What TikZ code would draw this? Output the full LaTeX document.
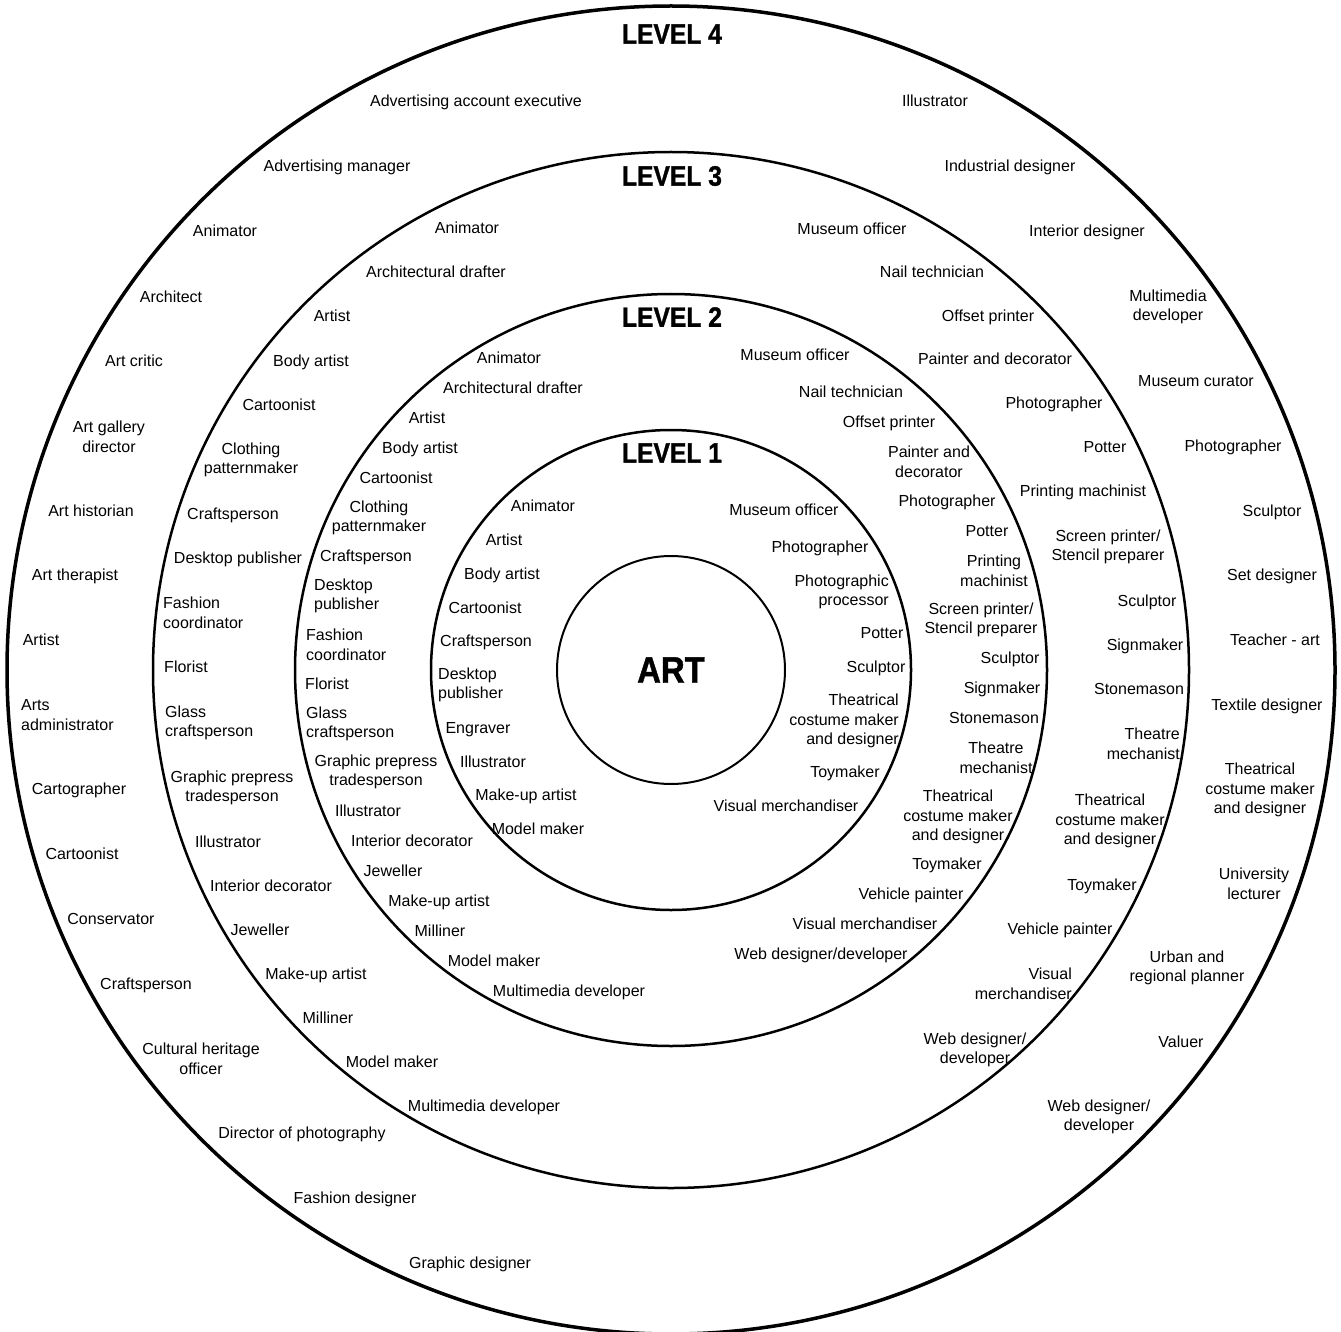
\documentclass[tikz,border=0pt]{standalone}
\usepackage{fontspec}
\setmainfont{Liberation Sans}
\newfontfamily\heavyfont[FakeBold=1.2]{Liberation Sans Bold}
\newcommand\labfont{\fontsize{16}{19.5}\selectfont}
\newcommand\headfont{\heavyfont\fontsize{28}{30}\selectfont}
\newcommand\artfont{\heavyfont\fontsize{37}{40}\selectfont}
\begin{document}
\begin{tikzpicture}[x=1pt,y=-1pt,
  lab/.style={font=\labfont, inner sep=0pt, text height=11pt, text depth=3pt, yshift=-2pt},
  labm/.style={font=\labfont, inner sep=0pt, align=center, yshift=-2pt},
  labl/.style={labm, align=left, anchor=west},
  labr/.style={labm, align=right, anchor=east},
  head/.style={inner sep=0pt, font=\headfont},
  ring/.style={draw, line width=2.5pt}]
\useasboundingbox (0,0) rectangle (1341,1332);
\coordinate (c) at (671,670);
\draw[line width=3.5pt] (c) circle[radius=664];
\draw[ring] (c) circle[radius=518];
\draw[ring] (c) circle[radius=376];
\draw[ring] (c) circle[radius=240];
\node[draw, circle, line width=2pt, minimum size=228pt, inner sep=0pt, font=\artfont] (art) at (c) {\scalebox{0.89}[1]{ART}};
% headings
\node[head] (h4) at (672,34) {\scalebox{0.88}[1]{LEVEL 4}};
\node[head] (h3) at (672,176) {\scalebox{0.88}[1]{LEVEL 3}};
\node[head] (h2) at (672,317) {\scalebox{0.88}[1]{LEVEL 2}};
\node[head] (h1) at (672,453) {\scalebox{0.88}[1]{LEVEL 1}};
% level 4 left
\node[lab] (a1) at (476,101) {Advertising account executive};
\node[lab] (a2) at (337,166) {Advertising manager};
\node[lab] (a3) at (225,231) {Animator};
\node[lab] (a4) at (171,296) {Architect};
\node[lab] (a5) at (134,360) {Art critic};
\node[labm] (a6) at (109,435) {Art gallery\\director};
\node[lab] (a7) at (91,510) {Art historian};
\node[lab] (a8) at (75,574) {Art therapist};
\node[lab] (a9) at (41,639) {Artist};
\node[labl] (a10) at (21,713) {Arts\\administrator};
\node[lab] (a11) at (79,788) {Cartographer};
\node[lab] (a12) at (82,853) {Cartoonist};
\node[lab] (a13) at (111,918) {Conservator};
\node[lab] (a14) at (146,983) {Craftsperson};
\node[labm] (a15) at (201,1057) {Cultural heritage\\officer};
\node[lab] (a16) at (302,1132) {Director of photography};
\node[lab] (a17) at (355,1197) {Fashion designer};
\node[lab] (a18) at (470,1262) {Graphic designer};
% level 4 right
\node[lab] (b1) at (935,101) {Illustrator};
\node[lab] (b2) at (1010,166) {Industrial designer};
\node[lab] (b3) at (1087,231) {Interior designer};
\node[labm] (b4) at (1168,305) {Multimedia\\developer};
\node[lab] (b5) at (1196,380) {Museum curator};
\node[lab] (b6) at (1233,445) {Photographer};
\node[lab] (b7) at (1272,510) {Sculptor};
\node[lab] (b8) at (1272,574) {Set designer};
\node[lab] (b9) at (1275,639) {Teacher - art};
\node[lab] (b10) at (1267,704) {Textile designer};
\node[labm] (b11) at (1260,788) {Theatrical\\costume maker\\and designer};
\node[labm] (b12) at (1254,882) {University\\lecturer};
\node[labm] (b13) at (1187,966) {Urban and\\regional planner};
\node[lab] (b14) at (1181,1041) {Valuer};
\node[labm] (b15) at (1099,1115) {Web designer/\\developer};
% level 3 left
\node[lab] (c1) at (467,228) {Animator};
\node[lab] (c2) at (436,272) {Architectural drafter};
\node[lab] (c3) at (332,316) {Artist};
\node[lab] (c4) at (311,360) {Body artist};
\node[lab] (c5) at (279,404) {Cartoonist};
\node[labm] (c6) at (251,458) {Clothing\\patternmaker};
\node[lab] (c7) at (233,513) {Craftsperson};
\node[lab] (c8) at (238,557) {Desktop publisher};
\node[labl] (c9) at (163,611) {Fashion\\coordinator};
\node[lab] (c10) at (186,666) {Florist};
\node[labl] (c11) at (165,721) {Glass\\craftsperson};
\node[labm] (c12) at (232,786) {Graphic prepress\\tradesperson};
\node[lab] (c13) at (228,841) {Illustrator};
\node[lab] (c14) at (271,885) {Interior decorator};
\node[lab] (c15) at (260,929) {Jeweller};
\node[lab] (c16) at (316,973) {Make-up artist};
\node[lab] (c17) at (328,1017) {Milliner};
\node[lab] (c18) at (392,1061) {Model maker};
\node[lab] (c19) at (484,1105) {Multimedia developer};
% level 3 right
\node[lab] (d1) at (852,229) {Museum officer};
\node[lab] (d2) at (932,272) {Nail technician};
\node[lab] (d3) at (988,316) {Offset printer};
\node[lab] (d4) at (995,358) {Painter and decorator};
\node[lab] (d5) at (1054,402) {Photographer};
\node[lab] (d6) at (1105,446) {Potter};
\node[lab] (d7) at (1083,490) {Printing machinist};
\node[labm] (d8) at (1108,545) {Screen printer/\\Stencil preparer};
\node[lab] (d9) at (1147,600) {Sculptor};
\node[lab] (d10) at (1145,644) {Signmaker};
\node[lab] (d11) at (1139,688) {Stonemason};
\node[labr] (d12) at (1180,742) {Theatre\\mechanist};
\node[labm] (d13) at (1110,819) {Theatrical\\costume maker\\and designer};
\node[lab] (d14) at (1102,884) {Toymaker};
\node[lab] (d15) at (1060,928) {Vehicle painter};
\node[labr] (d16) at (1072,982) {Visual\\merchandiser};
\node[labm] (d17) at (975,1048) {Web designer/\\developer};
% level 2 left
\node[lab] (e1) at (509,357) {Animator};
\node[lab] (e2) at (513,387) {Architectural drafter};
\node[lab] (e3) at (427,417) {Artist};
\node[lab] (e4) at (420,447) {Body artist};
\node[lab] (e5) at (396,477) {Cartoonist};
\node[labm] (e6) at (379,516) {Clothing\\patternmaker};
\node[lab] (e7) at (366,555) {Craftsperson};
\node[labl] (e8) at (314,594) {Desktop\\publisher};
\node[labl] (e9) at (306,643) {Fashion\\coordinator};
\node[lab] (e10) at (327,683) {Florist};
\node[labl] (e11) at (306,722) {Glass\\craftsperson};
\node[labm] (e12) at (376,770) {Graphic prepress\\tradesperson};
\node[lab] (e13) at (368,810) {Illustrator};
\node[lab] (e14) at (412,840) {Interior decorator};
\node[lab] (e15) at (393,870) {Jeweller};
\node[lab] (e16) at (439,900) {Make-up artist};
\node[lab] (e17) at (440,930) {Milliner};
\node[lab] (e18) at (494,960) {Model maker};
\node[lab] (e19) at (569,990) {Multimedia developer};
% level 2 right
\node[lab] (f1) at (795,354) {Museum officer};
\node[lab] (f2) at (851,391) {Nail technician};
\node[lab] (f3) at (889,421) {Offset printer};
\node[labm] (f4) at (929,460) {Painter and\\decorator};
\node[lab] (f5) at (947,500) {Photographer};
\node[lab] (f6) at (987,530) {Potter};
\node[labm] (f7) at (994,569) {Printing\\machinist};
\node[labm] (f8) at (981,618) {Screen printer/\\Stencil preparer};
\node[lab] (f9) at (1010,657) {Sculptor};
\node[lab] (f10) at (1002,687) {Signmaker};
\node[lab] (f11) at (994,717) {Stonemason};
\node[labm] (f12) at (996,756) {Theatre\\mechanist};
\node[labm] (f13) at (958,815) {Theatrical\\costume maker\\and designer};
\node[lab] (f14) at (947,863) {Toymaker};
\node[lab] (f15) at (911,893) {Vehicle painter};
\node[lab] (f16) at (865,923) {Visual merchandiser};
\node[lab] (f17) at (821,953) {Web designer/developer};
% level 1 left
\node[lab] (g1) at (543,505) {Animator};
\node[lab] (g2) at (504,539) {Artist};
\node[lab] (g3) at (502,573) {Body artist};
\node[lab] (g4) at (485,607) {Cartoonist};
\node[lab] (g5) at (486,640) {Craftsperson};
\node[labl] (g6) at (438,683) {Desktop\\publisher};
\node[lab] (g7) at (478,727) {Engraver};
\node[lab] (g8) at (493,761) {Illustrator};
\node[lab] (g9) at (526,794) {Make-up artist};
\node[lab] (g10) at (538,828) {Model maker};
% level 1 right
\node[lab] (k1) at (784,509) {Museum officer};
\node[lab] (k2) at (820,546) {Photographer};
\node[labr] (k3) at (889,590) {Photographic\\processor};
\node[lab] (k4) at (882,632) {Potter};
\node[lab] (k5) at (876,666) {Sculptor};
\node[labr] (k6) at (899,719) {Theatrical\\costume maker\\and designer};
\node[lab] (k7) at (845,771) {Toymaker};
\node[lab] (k8) at (786,805) {Visual merchandiser};
\end{tikzpicture}
\end{document}
